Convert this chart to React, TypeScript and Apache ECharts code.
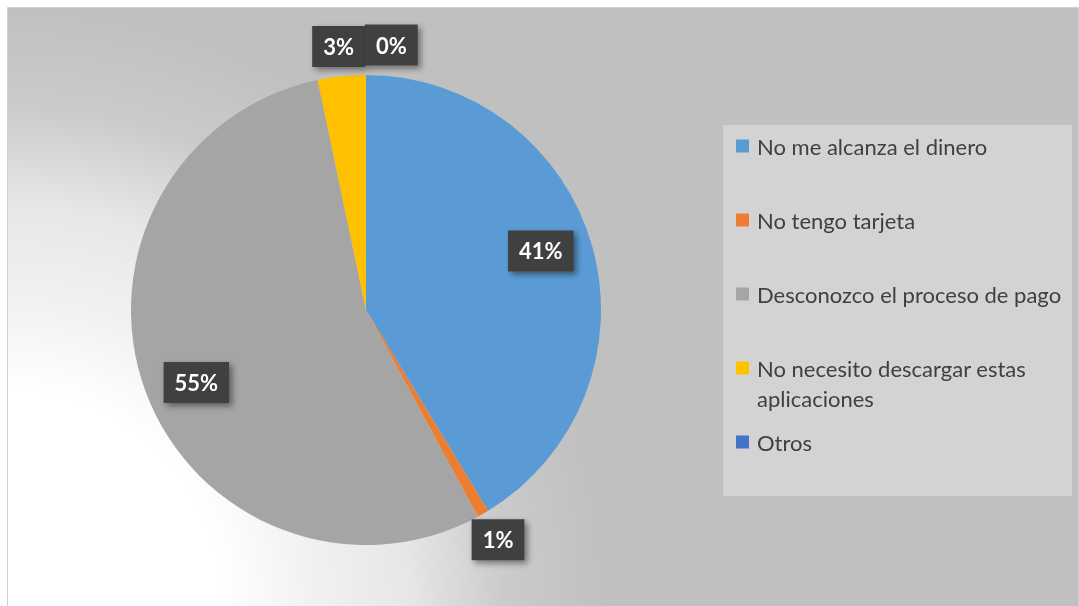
import React, { useEffect, useRef } from "react";
import * as echarts from "echarts";

const categories = [
  "No me alcanza el dinero",
  "No tengo tarjeta",
  "Desconozco el proceso de pago",
  "No necesito descargar estas aplicaciones",
  "Otros",
];
const values = [41.3, 0.8, 54.6, 3.3, 0];
const colors = ["#5B9BD5", "#ED7D31", "#A5A5A5", "#FFC000", "#4472C4"];

const W = 1072;
const H = 599;
const LEGEND_FONT = "22px Lato";
const LEGEND_MAX_W = 312;

function wrapLegend(name: string): string {
  const ctx = document.createElement("canvas").getContext("2d");
  let lines: string[] = [name];
  if (ctx) {
    ctx.font = LEGEND_FONT;
    lines = [];
    let cur = "";
    for (const w of name.split(" ")) {
      const test = cur ? cur + " " + w : w;
      if (cur && ctx.measureText(test).width > LEGEND_MAX_W) {
        lines.push(cur);
        cur = w;
      } else cur = test;
    }
    if (cur) lines.push(cur);
  }
  // keep the marker level with the first line (as in the reference legend)
  return lines.length > 1 ? "\n" + lines.join("\n") : "\n" + lines[0] + "\n";
}

export default function App() {
  const ref = useRef<HTMLDivElement>(null);

  useEffect(() => {
    if (!ref.current) return;
    const chart = echarts.init(ref.current, null, { renderer: "svg" });
    const total = values.reduce((a, b) => a + b, 0);

    const labelStyle = {
      formatter: (p: any) => Math.round(p.percent) + "%",
      color: "#ffffff",
      fontFamily: "Lato",
      fontWeight: "bold",
      fontSize: 22,
      lineHeight: 21,
      backgroundColor: "#404040",
      padding: [10, 11],
      shadowColor: "rgba(0,0,0,0.45)",
      shadowBlur: 6,
      shadowOffsetX: 3,
      shadowOffsetY: 3,
    };

    const base = {
      type: "pie",
      center: [359, 303],
      startAngle: 90,
      clockwise: true,
      avoidLabelOverlap: false,
      labelLine: { show: false },
      emphasis: { disabled: true },
    };

    const option: any = {
      animation: false,
      graphic: [
        {
          type: "rect",
          z: 0,
          silent: true,
          shape: { x: 0.5, y: 0.5, width: W - 1, height: H },
          style: {
            fill: new echarts.graphic.RadialGradient(
              0,
              H,
              600,
              [
                { offset: 0, color: "#ffffff" },
                { offset: 0.36, color: "#ffffff" },
                { offset: 0.5, color: "#f2f2f2" },
                { offset: 0.667, color: "#e7e7e7" },
                { offset: 0.83, color: "#cbcbcb" },
                { offset: 1, color: "#c0c0c0" },
              ],
              true
            ),
            stroke: "#d0d0d0",
            lineWidth: 1,
          },
        },
        {
          type: "rect",
          z: 1,
          silent: true,
          shape: { x: 716, y: 118, width: 349, height: 371 },
          style: { fill: "#d3d3d3" },
        },
      ],
      legend: {
        orient: "vertical",
        left: 729,
        top: 94,
        padding: 0,
        icon: "rect",
        itemWidth: 13,
        itemHeight: 13,
        itemGap: -16,
        selectedMode: false,
        formatter: (name: string) => wrapLegend(name),
        textStyle: {
          fontFamily: "Lato",
          fontSize: 22,
          color: "#404040",
          lineHeight: 30,
          padding: [0, 0, 0, 3],
        },
        data: categories,
      },
      series: [
        {
          ...base,
          name: "fill",
          radius: [0, 235],
          label: { show: false },
          itemStyle: { borderWidth: 0 },
          data: categories.map((c, i) => ({
            name: c,
            value: values[i],
            itemStyle: { color: colors[i] },
          })),
        },
        {
          ...base,
          name: "inner-labels",
          startAngle: 93,
          radius: [128, 235],
          silent: true,
          itemStyle: { color: "transparent", borderWidth: 0 },
          label: { ...labelStyle, position: "inside" },
          data: categories.map((c, i) => ({
            name: c,
            value: values[i],
            label: { show: values[i] / total >= 0.1 },
          })),
        },
        {
          ...base,
          name: "outer-labels",
          radius: [236, 288],
          silent: true,
          itemStyle: { color: "transparent", borderWidth: 0 },
          label: { ...labelStyle, position: "inside" },
          labelLayout: { moveOverlap: "shiftX" },
          data: categories.map((c, i) => ({
            name: c,
            value: values[i],
            label: { show: values[i] / total < 0.1 },
          })),
        },
      ],
    };

    chart.setOption(option);
    return () => chart.dispose();
  }, []);

  return (
    <div
      ref={ref}
      style={{ position: "fixed", left: 7, top: 7, width: W, height: H }}
    />
  );
}
